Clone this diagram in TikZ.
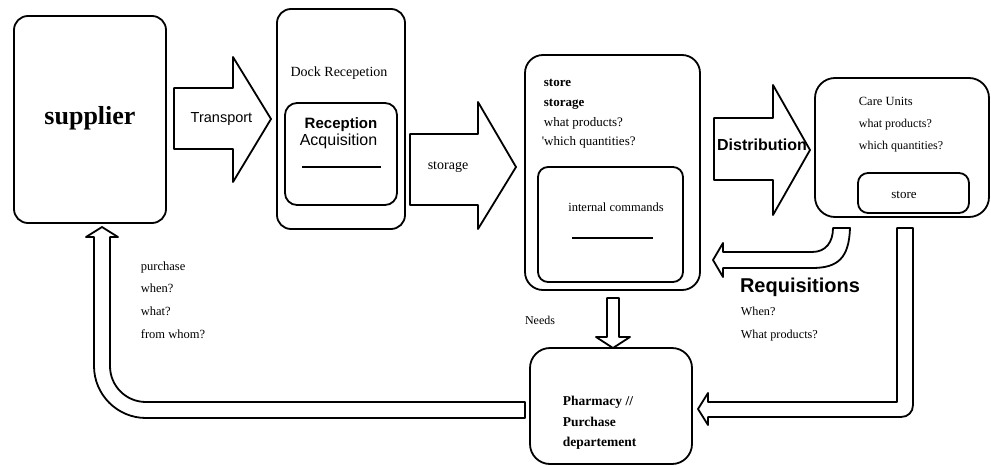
\documentclass[tikz,border=0pt]{standalone}
\usepackage{fontspec}
\setmainfont{Liberation Serif}
\setsansfont{Liberation Sans}
\newcommand{\fs}[1]{\fontsize{#1}{1.2\dimexpr#1pt\relax}\selectfont}
\newcommand{\straightquote}{{\addfontfeatures{Ligatures=TeXOff}'}}
\begin{document}
\begin{tikzpicture}[x=1pt,y=-1pt,line width=1.8pt,line join=round,
  panel/.style={draw,rectangle,inner sep=0pt,outer sep=0pt,rounded corners=#1},
  blockarrow/.style={draw,fill=white},
  lbl/.style={anchor=base west,inner sep=0pt},
  ctr/.style={inner sep=0pt}]
\useasboundingbox (0,0) rectangle (991,466);

% ---------- boxes ----------
\node (supplier) [panel=14pt,minimum width=152pt,minimum height=207pt] at (90,119.5) {};
\node (dock)     [panel=14pt,minimum width=128pt,minimum height=220pt] at (341,119) {};
\node (dockin)   [panel=12pt,minimum width=112pt,minimum height=102pt] at (341,154) {};
\node (store)    [panel=18pt,minimum width=175pt,minimum height=235pt] at (612.5,172.5) {};
\node (storein)  [panel=10pt,minimum width=145pt,minimum height=115pt] at (610.5,224.5) {};
\node (care)     [panel=20pt,minimum width=174pt,minimum height=139pt] at (902,147.5) {};
\node (carein)   [panel=10pt,minimum width=111pt,minimum height=40pt]  at (913.5,193) {};
\node (pharma)   [panel=20pt,minimum width=162pt,minimum height=116pt] at (611,406) {};

% ---------- block arrows ----------
% supplier -> dock
\draw[blockarrow] (174,88) -- (233,88) -- (233,57) -- (271,119) -- (233,182)
  -- (233,149) -- (174,149) -- cycle;
% dock -> store
\draw[blockarrow] (410,134) -- (478,134) -- (478,102) -- (516,167) -- (478,229)
  -- (478,205) -- (410,205) -- cycle;
% store -> care units
\draw[blockarrow] (714,118) -- (773,118) -- (773,85) -- (810,150) -- (773,215)
  -- (773,180) -- (714,180) -- cycle;
% store -> pharmacy (needs)
\draw[blockarrow] (607,298) -- (619,298) -- (619,337) -- (630,337) -- (613,348)
  -- (596,337) -- (607,337) -- cycle;
% care units -> store (requisitions)
\draw[blockarrow] (833,228) -- (850,228) .. controls (849,258) and (838,268) .. (812,268)
  -- (723,268) -- (723,277) -- (713,260) -- (723,243) -- (723,252) -- (812,252)
  .. controls (826,252) and (833,242) .. (833,228) -- cycle;
% care units -> pharmacy
\draw[blockarrow] (897,228) -- (913,228) -- (913,405) .. controls (913,412) and (908,417) .. (901,417)
  -- (708,417) -- (708,425) -- (698,409) -- (708,393) -- (708,402) -- (897,402) -- cycle;
% pharmacy -> supplier
\draw[blockarrow] (525,402) -- (146,402) .. controls (126,402) and (110,386) .. (110,366)
  -- (110,237) -- (118,237) -- (102,227) -- (86,237) -- (94,237) -- (94,366)
  .. controls (94,394.7) and (117.3,418) .. (146,418) -- (525,418) -- cycle;

% ---------- rules inside boxes ----------
\draw[line width=1.3pt] (302,167) -- (381,167);
\draw[line width=1.3pt] (572,238) -- (653,238);

% ---------- texts ----------
\node (tsup) [ctr,font=\fs{26}\bfseries] at (90,118) {supplier};
\node (ttrans) [ctr,font=\sffamily\fs{14.5}] at (221.5,119) {Transport};
\node (tdock) [ctr,font=\fs{14}] at (339,73) {Dock Recepetion};
\node (trec) [ctr,font=\sffamily\bfseries\fs{15}] at (341,125) {Reception};
\node (tacq) [ctr,font=\sffamily\fs{16}] at (338.5,141) {Acquisition};
\node (tstorage) [ctr,font=\fs{14}] at (448,167) {storage};

\node (ts1) [lbl,font=\fs{13}\bfseries] at (543,86) {store};
\node (ts2) [lbl,font=\fs{13}\bfseries] at (543,106) {storage};
\node (ts3) [lbl,font=\fs{13}] at (543,126) {what products?};
\node (ts4) [lbl,font=\fs{13}] at (541,145) {\straightquote which quantities?};
\node (tint) [ctr,font=\fs{12.5}] at (616,207) {internal commands};

\node (tdist) [ctr,font=\sffamily\bfseries\fs{16}] at (762,145) {Distribution};

\node (tc1) [lbl,font=\fs{12.5}] at (858,105) {Care Units};
\node (tc2) [lbl,font=\fs{12}] at (858,127) {what products?};
\node (tc3) [lbl,font=\fs{12}] at (858,149) {which quantities?};
\node (tcs) [ctr,font=\fs{13}] at (904,195) {store};

\node (treq) [ctr,font=\sffamily\bfseries\fs{20}] at (800,287) {Requisitions};
\node (tw1) [lbl,font=\fs{12.2}] at (740,315) {When?};
\node (tw2) [lbl,font=\fs{12.2}] at (740,338) {What products?};

\node (tneeds) [ctr,font=\fs{12}] at (540,320) {Needs};

\node (tp1) [lbl,font=\fs{12.5}] at (140,270) {purchase};
\node (tp2) [lbl,font=\fs{12.5}] at (140,292) {when?};
\node (tp3) [lbl,font=\fs{12.5}] at (140,315) {what?};
\node (tp4) [lbl,font=\fs{12.5}] at (140,338) {from whom?};

\node (th1) [lbl,font=\fs{13.5}\bfseries] at (562,405) {Pharmacy //};
\node (th2) [lbl,font=\fs{13.5}\bfseries] at (562,426) {Purchase};
\node (th3) [lbl,font=\fs{13.5}\bfseries] at (562,446) {departement};
\end{tikzpicture}
\end{document}
